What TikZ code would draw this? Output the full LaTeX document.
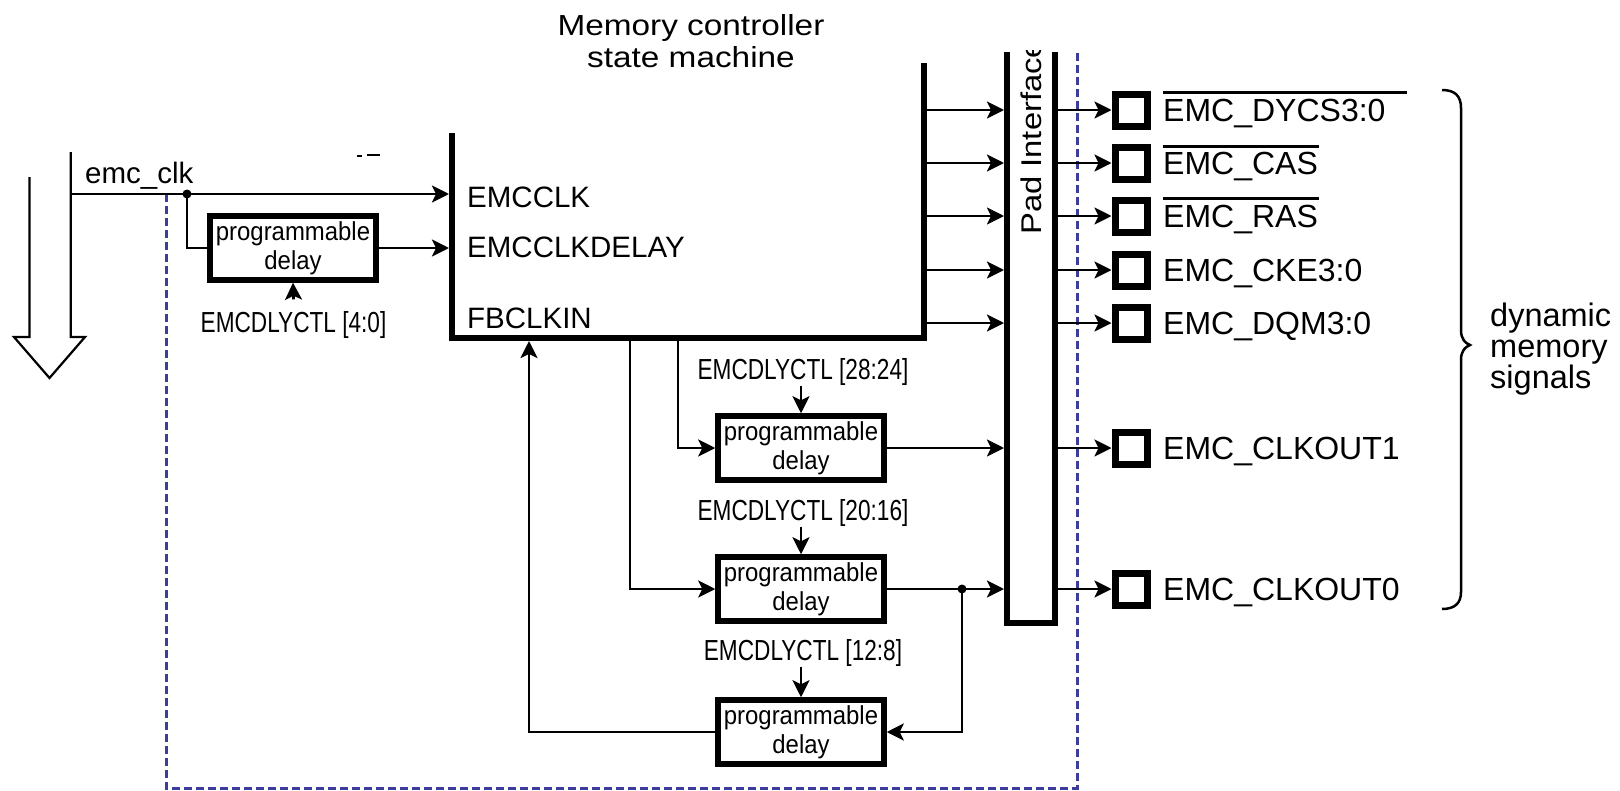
\documentclass[tikz,border=0pt]{standalone}
\usepackage{fontspec}
\setmainfont{Liberation Sans}
\newfontfamily\condfont{Liberation Sans}[FakeStretch=0.78]
\newfontfamily\progfont{Liberation Sans}[FakeStretch=0.92]
\newfontfamily\widefont{Liberation Sans}[FakeStretch=1.15]
\usetikzlibrary{arrows.meta}
\definecolor{dashblue}{RGB}{60,60,155}
\begin{document}
\begin{tikzpicture}[x=1pt,y=-1pt,
  wire/.style={line width=2.7pt},
  arr/.style={wire,-{Stealth[length=17pt,width=17pt,inset=4pt]}},
  heavy/.style={line width=6pt},
  dbox/.style={draw,line width=5.5pt,minimum width=166pt,minimum height=64pt,inner sep=0pt,align=center,font=\progfont\fontsize{26}{29}\selectfont},
  ctl/.style={inner sep=0pt,font=\condfont\fontsize{29}{32}\selectfont},
  sig/.style={inner sep=0pt,anchor=base west,font=\fontsize{32}{34}\selectfont},
  pin/.style={draw,line width=7pt,minimum size=32pt,inner sep=0pt},
  lbl/.style={inner sep=0pt,anchor=base west,font=\fontsize{29.5}{32}\selectfont},
  dot/.style={circle,fill,inner sep=0pt,minimum size=9pt}]
\useasboundingbox (0,0) rectangle (1620,790);

% dashed boundary
\draw[dashblue,line width=3pt,dash pattern=on 8pt off 4pt] (166,194) -- (166,788) -- (1077,788) -- (1077,52);

% hollow bus arrow
\draw[line width=2.2pt,line join=miter] (29.5,177) -- (29.5,337) -- (14,337) -- (49.5,378) -- (85,337) -- (70.7,337) -- (70.7,152);

% title
\node[inner sep=0pt,anchor=north,align=center,font=\widefont\fontsize{29}{32}\selectfont] (title) at (691,14) {Memory controller\\state machine};

% state machine block (open top)
\draw[heavy,line join=miter] (452,133) -- (452,338) -- (924,338) -- (924,63);
\node[lbl] (lclk) at (467,207) {EMCCLK};
\node[lbl] (lclkd) at (467,257) {EMCCLKDELAY};
\node[lbl] (lfb) at (467,328) {FBCLKIN};

% stray mark
\draw[line width=1.5pt] (357,156) -- (362,156);
\draw[line width=2.5pt] (367,155) -- (380,155);

% pad interface
\draw[heavy,line join=miter] (1007,52) -- (1007,623) -- (1055,623) -- (1055,52);
\begin{scope}
\clip (1010,50) rectangle (1052,240);
\node[inner sep=0pt,anchor=base west,rotate=90,font=\widefont\fontsize{28.5}{30}\selectfont] (padlbl) at (1041,235) {Pad Interface};
\end{scope}

% emc_clk input
\coordinate (busr) at (70.7,194);
\coordinate (inclk) at (449,194);
\coordinate (inclkd) at (449,248);
\node[lbl] (emcclk) at (85,183) {emc\_clk};
\node[dot] (j1) at (187,194) {};
\draw[arr] (busr) -- (inclk);

% delay 1
\node[dbox] (d1) at (293,248) {programmable\\delay};
\node[ctl] (c1) at (293.5,325) {EMCDLYCTL [4:0]};
\draw[wire] (j1.center) |- (d1.west);
\draw[arr] (d1.east) -- (inclkd);
\draw[arr] ([yshift=12pt]c1.north) -- (d1.south);

% delays 2-4
\node[dbox] (d2) at (801,448) {programmable\\delay};
\node[dbox] (d3) at (801,589) {programmable\\delay};
\node[dbox] (d4) at (801,732) {programmable\\delay};
\node[ctl] (c2) at (803,372) {EMCDLYCTL [28:24]};
\node[ctl] (c3) at (803,513) {EMCDLYCTL [20:16]};
\node[ctl] (c4) at (803,653) {EMCDLYCTL [12:8]};
\draw[arr] (c2.south -| d2.north) -- (d2.north);
\draw[arr] (c3.south -| d3.north) -- (d3.north);
\draw[arr] (c4.south -| d4.north) -- (d4.north);

\coordinate (t2) at (678,341);
\coordinate (t3) at (630,341);
\coordinate (fbin) at (529,341);
\draw[arr] (t2) |- (d2.west);
\draw[arr] (t3) |- (d3.west);
\draw[arr] (d4.west) -| (fbin);

\coordinate (pi6) at (1004,448);
\coordinate (pi7) at (1004,589);
\node[dot] (j2) at (962,589) {};
\draw[arr] (d2.east) -- (pi6);
\draw[arr] (d3.east) -- (pi7);
\draw[arr] (j2.center) |- (d4.east);

% block outputs to pad interface
\foreach \y [count=\i] in {110,163,216,270,323} {
  \coordinate (bo\i) at (924,\y);
  \coordinate (pi\i) at (1004,\y);
  \draw[arr] (bo\i) -- (pi\i);
}

% pads
\foreach \y [count=\i] in {110,163,216,270,323,448,589} {
  \coordinate (po\i) at (1055,\y);
  \node[pin] (p\i) at (1131,\y) {};
  \draw[arr] (po\i) -- (p\i.west);
}
\node[sig] (s1) at (1163,121) {EMC\_DYCS3:0};
\node[sig] (s2) at (1163,174) {EMC\_CAS};
\node[sig] (s3) at (1163,227) {EMC\_RAS};
\node[sig] (s4) at (1163,281) {EMC\_CKE3:0};
\node[sig] (s5) at (1163,334) {EMC\_DQM3:0};
\node[sig] (s6) at (1163,459) {EMC\_CLKOUT1};
\node[sig] (s7) at (1163,600) {EMC\_CLKOUT0};
\draw[line width=3pt] (1163,92) -- (1407,92);
\draw[line width=3pt] (1163,146) -- (1319,146);
\draw[line width=3pt] (1163,198) -- (1319,198);

% brace
\draw[line width=2.5pt] (1442,90) .. controls (1455,90) and (1461,96) .. (1461,108) -- (1461,330) .. controls (1461,339) and (1465,343) .. (1470,345) .. controls (1465,347) and (1461,351) .. (1461,360) -- (1461,592) .. controls (1461,603) and (1455,609) .. (1442,609);
\node[inner sep=0pt,anchor=west,align=left,font=\fontsize{32.5}{31}\selectfont] (dms) at (1490,349) {dynamic\\memory\\signals};
\end{tikzpicture}
\end{document}
